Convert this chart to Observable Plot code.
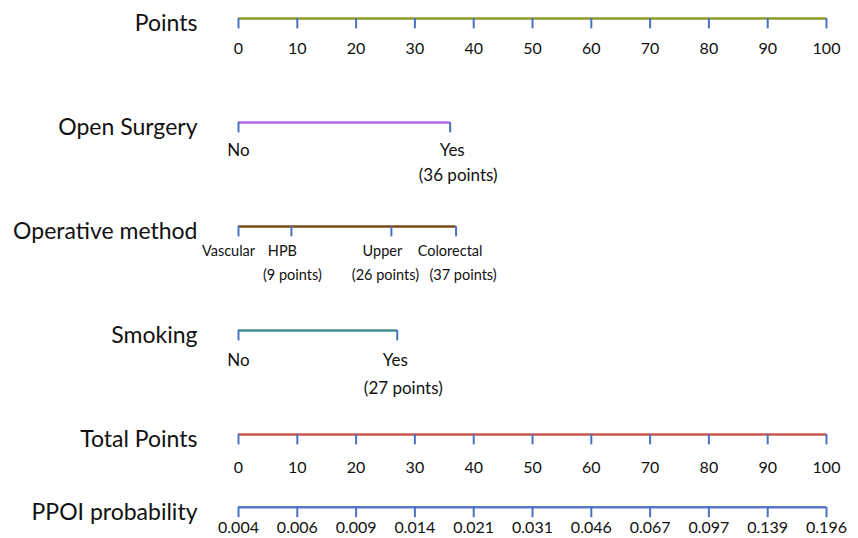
<!DOCTYPE html>
<html><head><meta charset="utf-8">
<script src="https://cdn.jsdelivr.net/npm/d3@7"></script>
<script src="https://cdn.jsdelivr.net/npm/@observablehq/plot@0.6"></script>
<style>body{margin:0;background:#fff;} svg{display:block;}</style>
</head><body><div id="chart"></div>
<script>
// ---- data ----
const rowTitles = ["Points", "Open Surgery", "Operative method", "Smoking", "Total Points", "PPOI probability"];
const pointsTicks = [0, 10, 20, 30, 40, 50, 60, 70, 80, 90, 100];
const openSurgeryLevels = ["No", "Yes"];
const openSurgeryPoints = [0, 36];
const operativeLevels = ["Vascular", "HPB", "Upper", "Colorectal"];
const operativePoints = [0, 9, 26, 37];
const smokingLevels = ["No", "Yes"];
const smokingPoints = [0, 27];
const totalPointsTicks = [0, 10, 20, 30, 40, 50, 60, 70, 80, 90, 100];
const ppoiLabels = ["0.004", "0.006", "0.009", "0.014", "0.021", "0.031", "0.046", "0.067", "0.097", "0.139", "0.196"];

// ---- layout / style ----
const rowPos = [0, 1, 2, 3, 4, 4.7];
const rowColor = ["#8a9b2c", "#b566e6", "#7a4b17", "#3d8c8a", "#c8574f", "#5b78c8"];
const tickColor = "#4a72c4";
const tickLen = 0.1;
const font = "Lato, 'Open Sans', sans-serif";
const titleSize = 23;
const labelSize = [16, 17, 14.5, 17, 16, 16];
// per-row label offsets (px): first line, second line
const dy1 = [30, 28, 25, 30, 33, 21];
const dy2 = [0, 53, 49, 58, 0, 0];
// per-label horizontal nudges (px) for the category rows
const dxA = {1: [0, 2], 2: [-10, -9, -9, -6], 3: [0, -2]};
const dxB = {1: [0, 8], 2: [0, 1, -6, 7], 3: [0, 6]};

// build rows
const rows = [
  {ticks: pointsTicks.map(p => ({x: p, a: String(p), b: ""}))},
  {ticks: openSurgeryLevels.map((l, i) => ({x: openSurgeryPoints[i], a: l, b: openSurgeryPoints[i] ? `(${openSurgeryPoints[i]} points)` : ""}))},
  {ticks: operativeLevels.map((l, i) => ({x: operativePoints[i], a: l, b: operativePoints[i] ? `(${operativePoints[i]} points)` : ""}))},
  {ticks: smokingLevels.map((l, i) => ({x: smokingPoints[i], a: l, b: smokingPoints[i] ? `(${smokingPoints[i]} points)` : ""}))},
  {ticks: totalPointsTicks.map(p => ({x: p, a: String(p), b: ""}))},
  {ticks: ppoiLabels.map((l, i) => ({x: totalPointsTicks[i], a: l, b: ""}))}
];

const marks = [];
rows.forEach((r, k) => {
  const y = rowPos[k];
  const xs = r.ticks.map(t => t.x);
  marks.push(Plot.ruleY([y], {x1: d3.min(xs), x2: d3.max(xs), stroke: rowColor[k], strokeWidth: 2.6}));
  marks.push(Plot.ruleX(r.ticks, {x: "x", y1: () => y, y2: () => y + tickLen, stroke: tickColor, strokeWidth: 2}));
  r.ticks.forEach((t, i) => {
    const ax = dxA[k] ? dxA[k][i] : 0;
    const bx = dxB[k] ? dxB[k][i] : 0;
    marks.push(Plot.text([t], {x: "x", y: () => y, text: "a", dx: ax, dy: dy1[k], fontSize: labelSize[k], fill: "#111", lineAnchor: "middle"}));
    if (t.b) marks.push(Plot.text([t], {x: "x", y: () => y, text: "b", dx: bx, dy: dy2[k], fontSize: labelSize[k], fill: "#111", lineAnchor: "middle"}));
  });
  marks.push(Plot.text([rowTitles[k]], {frameAnchor: "left", y: () => y, text: d => d, dx: -41, dy: 5, textAnchor: "end", fontSize: titleSize, fill: "#111", lineAnchor: "middle"}));
});

const chart = Plot.plot({
  width: 858, height: 538,
  marginLeft: 238, marginRight: 32, marginTop: 0, marginBottom: 0,
  style: {fontFamily: font, background: "#fff", overflow: "visible"},
  x: {domain: [0, 100], axis: null},
  y: {domain: [-0.173, 5.0], range: [0, 538], axis: null},
  marks
});
document.getElementById("chart").appendChild(chart);
</script>
</body></html>
